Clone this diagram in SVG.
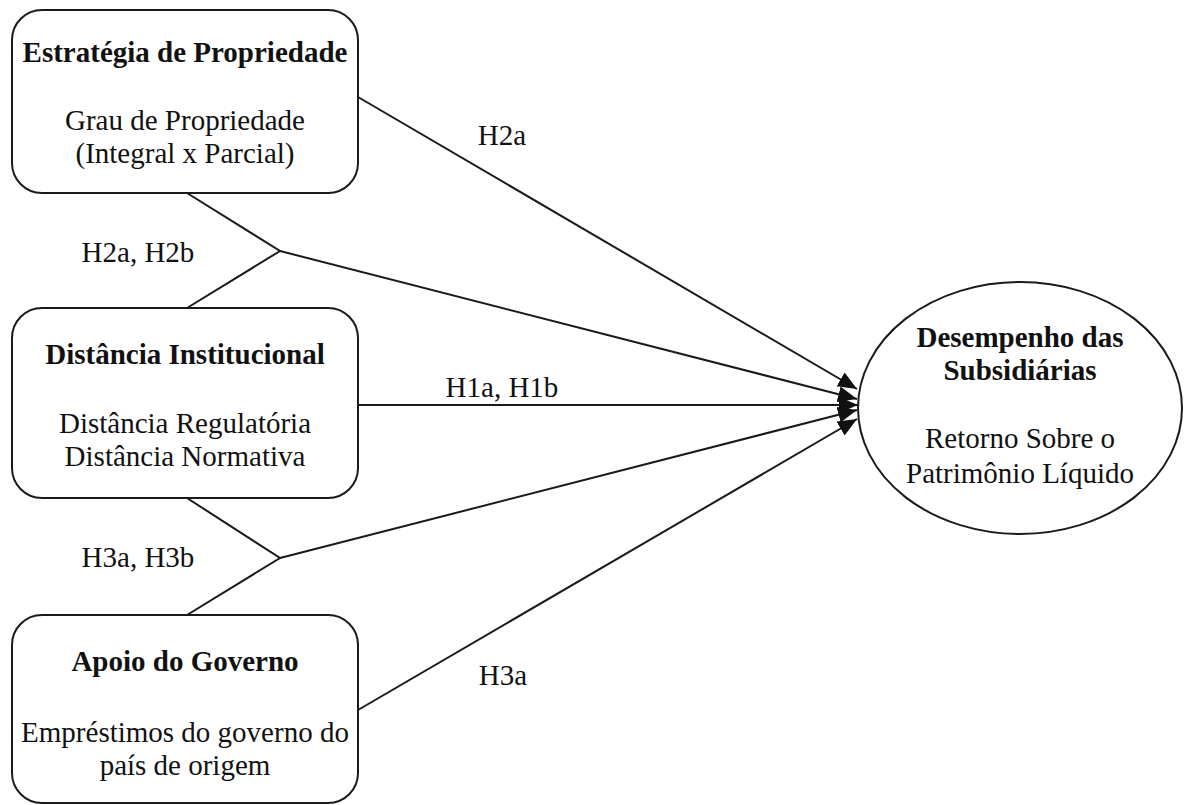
<svg xmlns="http://www.w3.org/2000/svg" width="1184" height="805" viewBox="0 0 1184 805">
<style>
  .box { fill: #ffffff; stroke: #1a1a1a; stroke-width: 2; }
  .t { font-family: "Liberation Serif", "Times New Roman", serif; font-size: 29px; fill: #111; text-anchor: middle; }
  .b { font-weight: bold; }
  .lbl { font-family: "Liberation Serif", "Times New Roman", serif; font-size: 29px; fill: #111; text-anchor: middle; }
  .c { stroke: #1a1a1a; stroke-width: 2; fill: none; }
</style>
<defs>
  <marker id="arr" markerUnits="userSpaceOnUse" markerWidth="22" markerHeight="18" refX="19" refY="8" orient="auto">
    <path d="M0,0 L19,8 L0,16 Z" fill="#111"/>
  </marker>
</defs>
<rect width="1184" height="805" fill="#ffffff"/>

<g id="connectors">
  <line class="c" x1="358" y1="97" x2="857" y2="389" marker-end="url(#arr)"/>
  <polyline class="c" points="187,193 280,251 187,308"/>
  <line class="c" x1="280" y1="251" x2="857" y2="399" marker-end="url(#arr)"/>
  <line class="c" x1="358" y1="405" x2="858" y2="405" marker-end="url(#arr)"/>
  <polyline class="c" points="187,498 280,558 187,615"/>
  <line class="c" x1="280" y1="558" x2="857" y2="410" marker-end="url(#arr)"/>
  <line class="c" x1="358" y1="710" x2="857" y2="419" marker-end="url(#arr)"/>
  <text class="lbl" x="502" y="145">H2a</text>
  <text class="lbl" x="138" y="262">H2a, H2b</text>
  <text class="lbl" x="502" y="397">H1a, H1b</text>
  <text class="lbl" x="138" y="567">H3a, H3b</text>
  <text class="lbl" x="503" y="685">H3a</text>
</g>

<g id="node-estrategia">
  <rect class="box" x="12" y="10" width="346" height="183" rx="30" ry="30"/>
  <text class="t b" x="185" y="62">Estratégia de Propriedade</text>
  <text class="t" x="185" y="130">Grau de Propriedade</text>
  <text class="t" x="185" y="163">(Integral x Parcial)</text>
</g>

<g id="node-distancia">
  <rect class="box" x="12" y="308" width="346" height="190" rx="30" ry="30"/>
  <text class="t b" x="185" y="364">Distância Institucional</text>
  <text class="t" x="185" y="433">Distância Regulatória</text>
  <text class="t" x="185" y="466">Distância Normativa</text>
</g>

<g id="node-apoio">
  <rect class="box" x="12" y="615" width="346" height="188" rx="30" ry="30"/>
  <text class="t b" x="185" y="671">Apoio do Governo</text>
  <text class="t" x="185" y="742">Empréstimos do governo do</text>
  <text class="t" x="185" y="775">país de origem</text>
</g>

<g id="node-desempenho">
  <ellipse class="box" cx="1020" cy="408" rx="162" ry="126"/>
  <text class="t b" x="1020" y="347">Desempenho das</text>
  <text class="t b" x="1020" y="380">Subsidiárias</text>
  <text class="t" x="1020" y="448">Retorno Sobre o</text>
  <text class="t" x="1020" y="483">Patrimônio Líquido</text>
</g>
</svg>
